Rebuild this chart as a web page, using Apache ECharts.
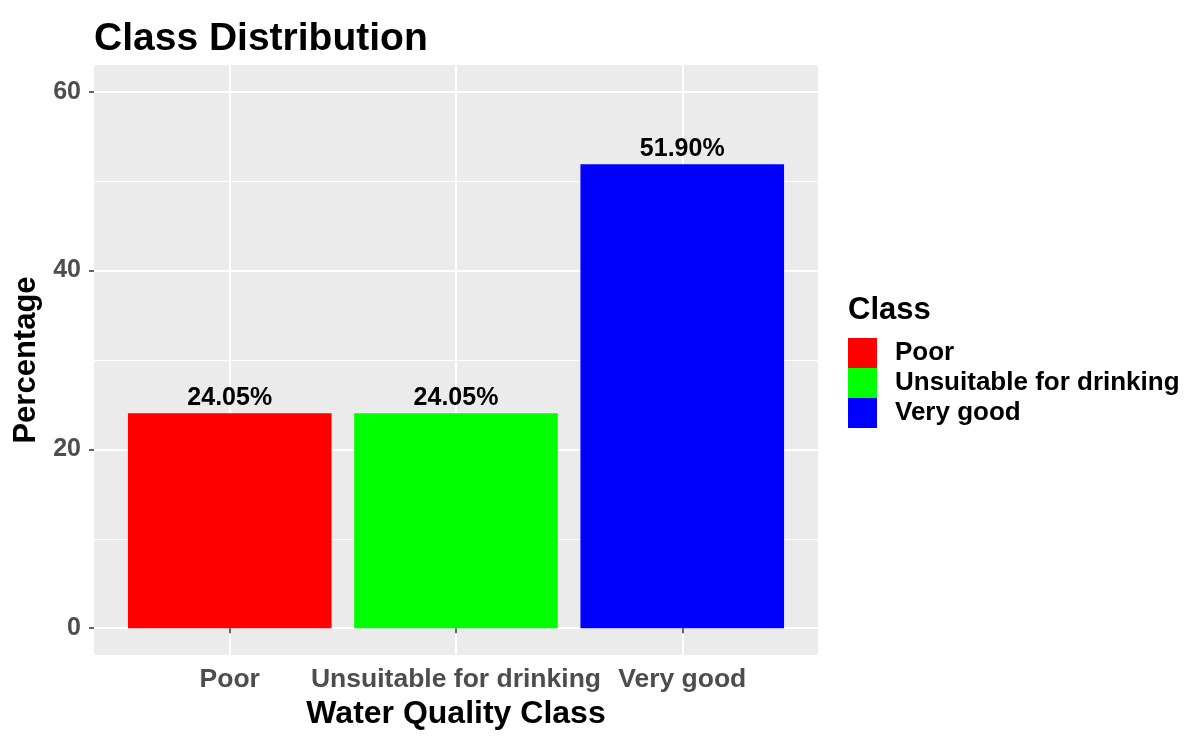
<!DOCTYPE html>
<html>
<head>
<meta charset="utf-8">
<title>Class Distribution</title>
<script src="https://cdn.jsdelivr.net/npm/echarts@6/dist/echarts.min.js"></script>
<style>
    html, body { margin: 0; padding: 0; background: #ffffff; }
    #main { width: 1200px; height: 750px; }
</style>
</head>
<body>
<div id="main"></div>
<script>
// data
var categories = ['Poor', 'Unsuitable for drinking', 'Very good'];
var percentages = [24.05, 24.05, 51.90];
var classColors = ['#ff0000', '#00ff00', '#0000ff'];
var yTicks = [0, 20, 40, 60];
var yMinorTicks = [10, 30, 50];
var xTicks = [1, 2, 3];

var FONT = 'Liberation Sans, Arial, sans-serif';
var gridLeft = 94, gridRight = 382, gridTop = 65, gridBottom = 95;
var gridWidth = 1200 - gridLeft - gridRight;
// ggplot style: 0.6 expansion on each side of discrete axis, bars 0.9 wide
var barWidth = 0.9 * gridWidth / (categories.length + 0.2);

var myChart = echarts.init(document.getElementById('main'));

var series = categories.map(function (name, i) {
    return {
        name: name,
        type: 'bar',
        barWidth: barWidth,
        barGap: '-100%',
        data: [[xTicks[i], percentages[i]]],
        itemStyle: { color: classColors[i] },
        label: {
            show: true,
            position: 'top',
            distance: 3,
            color: '#000000',
            fontFamily: FONT,
            fontWeight: 'bold',
            fontSize: 25,
            formatter: function (p) { return p.value[1].toFixed(2) + '%'; }
        }
    };
});

var option = {
    animation: false,
    backgroundColor: '#ffffff',
    title: [{
        text: 'Class Distribution',
        left: 94,
        top: 20,
        padding: 0,
        textStyle: { fontFamily: FONT, fontWeight: 'bold', fontSize: 39, color: '#000000' }
    }, {
        text: 'Class',
        left: 848,
        top: 295,
        padding: 0,
        textStyle: { fontFamily: FONT, fontWeight: 'bold', fontSize: 31, color: '#000000' }
    }],
    legend: {
        orient: 'vertical',
        left: 848,
        top: 338,
        padding: 0,
        itemWidth: 29,
        itemHeight: 30,
        itemGap: 0,
        icon: 'rect',
        selectedMode: false,
        data: categories,
        textStyle: {
            fontFamily: FONT, fontWeight: 'bold', fontSize: 26, color: '#000000',
            padding: [8, 0, 0, 13]
        }
    },
    grid: {
        left: gridLeft, right: gridRight, top: gridTop, bottom: gridBottom,
        show: true, backgroundColor: '#ebebeb', borderWidth: 0
    },
    xAxis: {
        type: 'value',
        min: 0.4,
        max: categories.length + 0.6,
        name: 'Water Quality Class',
        nameLocation: 'middle',
        nameGap: 39,
        nameTextStyle: { fontFamily: FONT, fontWeight: 'bold', fontSize: 32, color: '#000000' },
        axisLine: { show: false },
        axisTick: { show: true, customValues: xTicks, length: 5, lineStyle: { color: '#333333', width: 1.5 } },
        axisLabel: {
            customValues: xTicks,
            margin: 11,
            fontFamily: FONT, fontWeight: 'bold', fontSize: 26.5, color: '#4d4d4d',
            formatter: function (v) { return categories[Math.round(v) - 1] || ''; }
        },
        splitLine: { show: true, lineStyle: { color: '#ffffff', width: 2 } }
    },
    yAxis: [{
        type: 'value',
        min: -3,
        max: 63,
        name: 'Percentage',
        nameLocation: 'middle',
        nameGap: 50,
        nameTextStyle: { fontFamily: FONT, fontWeight: 'bold', fontSize: 31, color: '#000000' },
        axisLine: { show: false },
        axisTick: { show: true, customValues: yTicks, length: 5, lineStyle: { color: '#333333', width: 1.5 } },
        axisLabel: {
            customValues: yTicks,
            margin: 13,
            padding: [6, 0, 0, 0],
            fontFamily: FONT, fontWeight: 'bold', fontSize: 25, color: '#4d4d4d'
        },
        splitLine: { show: true, lineStyle: { color: '#ffffff', width: 2 } }
    }, {
        // minor grid lines only
        type: 'value',
        min: -3,
        max: 63,
        position: 'left',
        axisLine: { show: false },
        axisTick: { show: false, customValues: yMinorTicks },
        axisLabel: { show: false, customValues: yMinorTicks },
        splitLine: { show: true, lineStyle: { color: '#ffffff', width: 1 } }
    }],
    series: series
};

myChart.setOption(option);
</script>
</body>
</html>
